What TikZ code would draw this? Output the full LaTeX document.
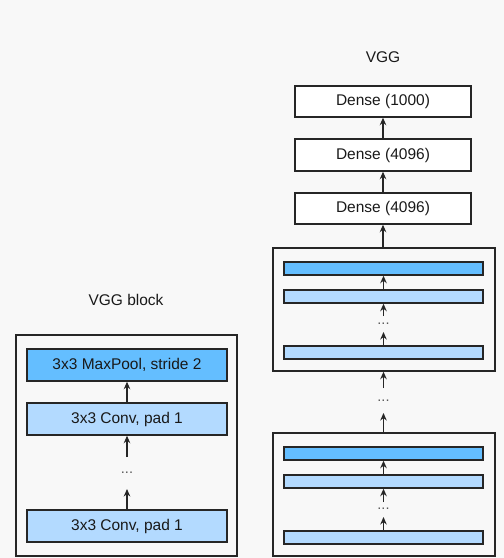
\documentclass[tikz,border=0pt]{standalone}
\usepackage{fontspec}
\setmainfont{Liberation Sans}
\usetikzlibrary{arrows.meta}
\definecolor{bg}{HTML}{F8F8F8}
\definecolor{darkb}{HTML}{64BEFF}
\definecolor{lightb}{HTML}{B3DAFF}
\definecolor{ln}{HTML}{262626}
\begin{document}
\begin{tikzpicture}[x=1pt,y=-1pt,
  box/.style={draw=ln,line width=1.4pt,inner sep=0pt},
  outerbox/.style={draw=ln,line width=1.4pt,fill=bg},
  pool/.style={box,fill=darkb},
  conv/.style={box,fill=lightb},
  dense/.style={box,fill=white},
  lbl/.style={font=\fontsize{15.5}{18}\selectfont,text=black!90},
  dts/.style={font=\fontsize{14.5}{17}\selectfont,text=black!65,inner sep=0pt},
  arr/.style={-{Stealth[length=7.5pt,width=6.5pt]},line width=1.6pt,draw=ln}]
\fill[bg] (0,0) rectangle (504,558);
\useasboundingbox (0,0) rectangle (504,558);

% ---- VGG block (left)
\node[lbl] (tleft) at (126,300) {VGG block};
\draw[outerbox] (16,335) rectangle (237,556);
\node[pool,minimum width=200pt,minimum height=32pt,lbl] (mp) at (127,365) {3x3 MaxPool, stride 2};
\node[conv,minimum width=200pt,minimum height=32pt,lbl] (c1) at (127,419) {3x3 Conv, pad 1};
\node[dts] (ld) at (127,473) {...};
\node[conv,minimum width=200pt,minimum height=32pt,lbl] (c2) at (127,526) {3x3 Conv, pad 1};
\coordinate (la) at (127,457);
\coordinate (lb) at (127,489);
\draw[arr] (c1.north) -- (mp.south);
\draw[arr] (la) -- (c1.south);
\draw[arr] (c2.north) -- (lb);

% ---- VGG (right)
\node[lbl] (tright) at (383,57) {VGG};
\node[dense,minimum width=176pt,minimum height=31pt,lbl] (d1) at (383,101.5) {Dense (1000)};
\node[dense,minimum width=176pt,minimum height=32pt,lbl] (d2) at (383,155) {Dense (4096)};
\node[dense,minimum width=176pt,minimum height=31pt,lbl] (d3) at (383,208.5) {Dense (4096)};
\draw[arr] (d2.north) -- (d1.south);
\draw[arr] (d3.north) -- (d2.south);

% block 1
\node[outerbox,minimum width=222pt,minimum height=123pt,inner sep=0pt] (b1) at (384,309.5) {};
\node[pool,minimum width=199pt,minimum height=13pt] (b1p) at (383.5,268.5) {};
\node[conv,minimum width=199pt,minimum height=13pt] (b1c) at (383.5,296.5) {};
\node[dts] (b1d) at (383.5,324) {...};
\node[conv,minimum width=199pt,minimum height=13pt] (b1e) at (383.5,352.5) {};
\coordinate (b1a) at (383.5,316);
\coordinate (b1b) at (383.5,332);
\draw[arr] (b1c.north) -- (b1p.south);
\draw[arr] (b1a) -- (b1c.south);
\draw[arr] (b1e.north) -- (b1b);
\draw[arr] (b1.north -| d3.south) -- (d3.south);

% between
\node[dts] (md) at (383.5,401) {...};
\coordinate (ma) at (383.5,388);
\coordinate (mb) at (383.5,413);

% block 2
\node[outerbox,minimum width=222pt,minimum height=123pt,inner sep=0pt] (b2) at (384,494.5) {};
\node[pool,minimum width=199pt,minimum height=13pt] (b2p) at (383.5,453.5) {};
\node[conv,minimum width=199pt,minimum height=13pt] (b2c) at (383.5,481.5) {};
\node[dts] (b2d) at (383.5,509) {...};
\node[conv,minimum width=199pt,minimum height=13pt] (b2e) at (383.5,537.5) {};
\coordinate (b2a) at (383.5,502);
\coordinate (b2b) at (383.5,517);
\draw[arr] (b2c.north) -- (b2p.south);
\draw[arr] (b2a) -- (b2c.south);
\draw[arr] (b2e.north) -- (b2b);

\draw[arr] (ma) -- (b1.south -| ma);
\draw[arr] (b2.north -| mb) -- (mb);
\end{tikzpicture}
\end{document}
